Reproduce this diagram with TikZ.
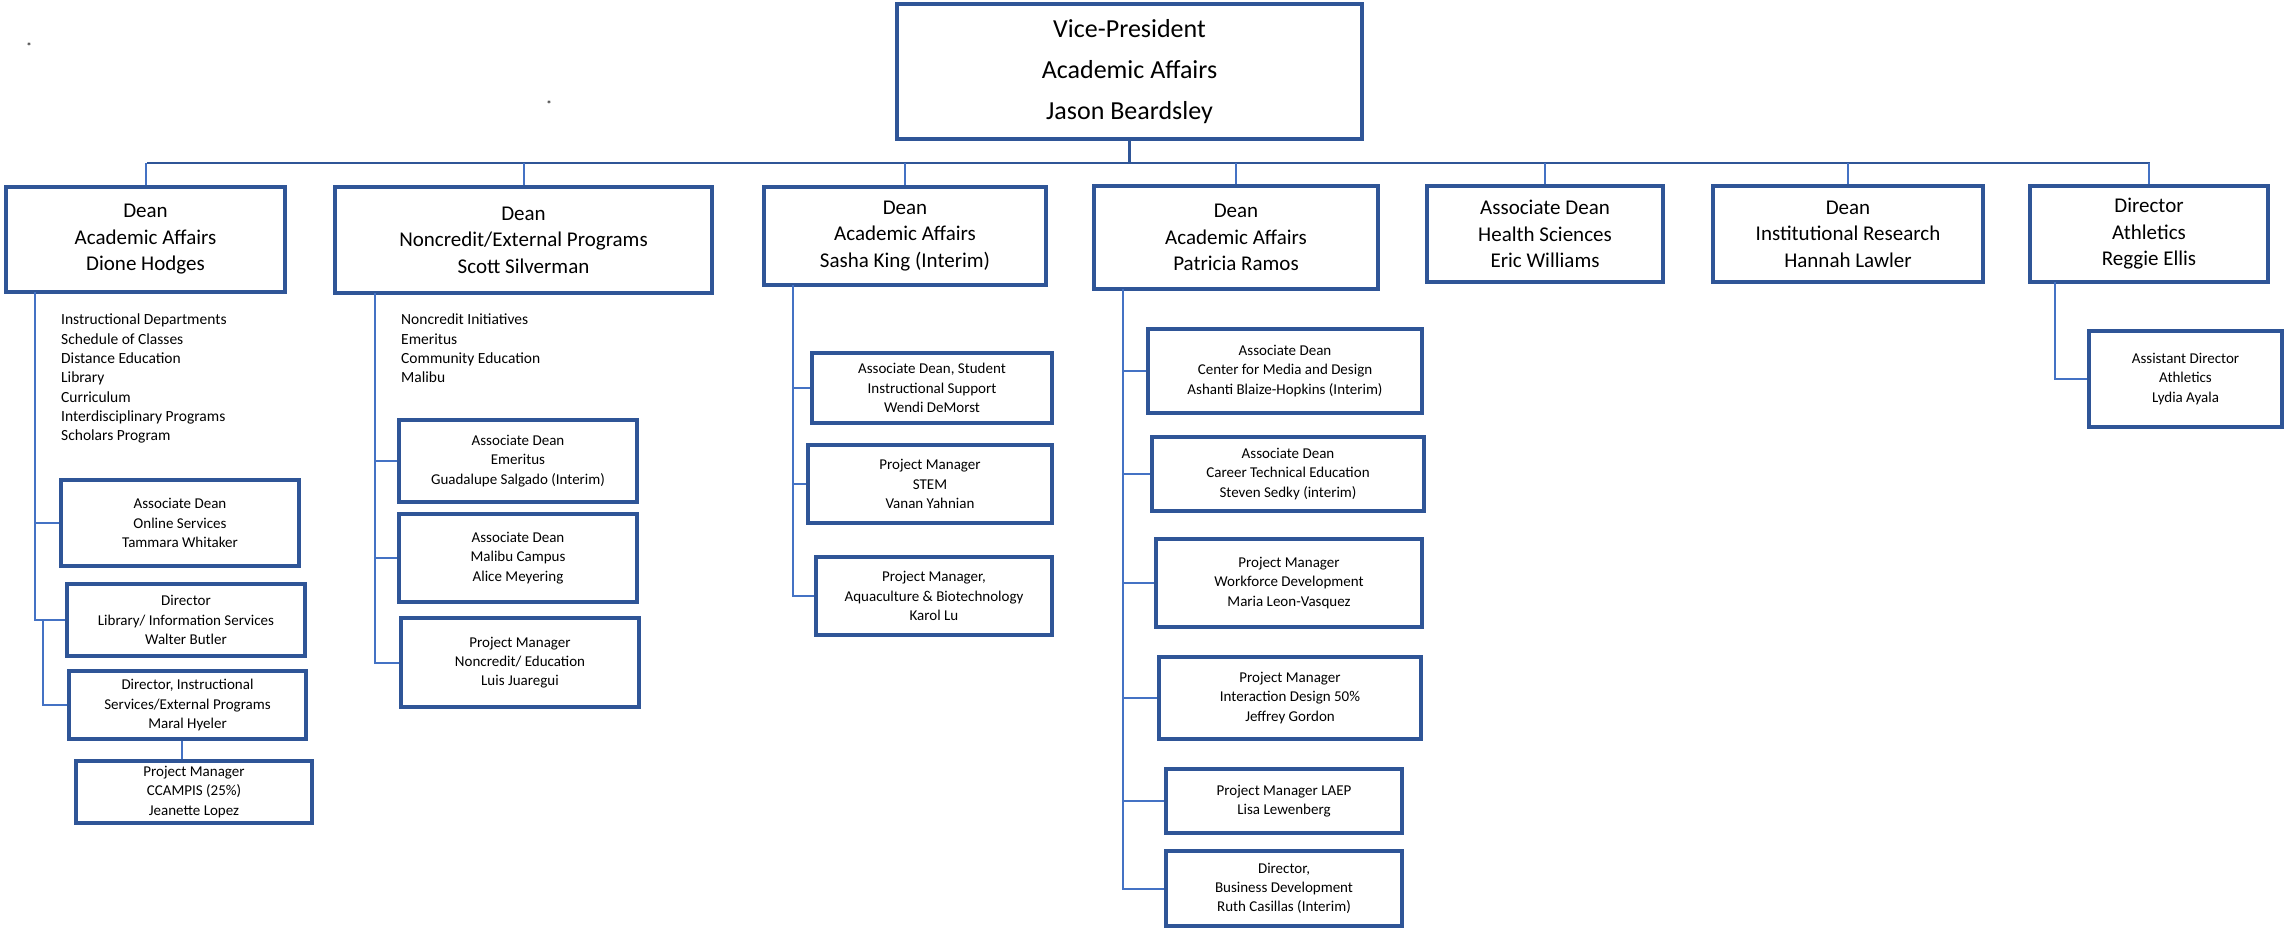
\documentclass[tikz,border=0pt]{standalone}
\usepackage{fontspec}
\setmainfont{Carlito}
\definecolor{boxblue}{HTML}{2F5597}
\definecolor{linkblue}{HTML}{4472C4}
\newcommand{\orgbox}[7]{\node[#2, minimum width={#5-#3}, minimum height={#6-#4}] (#1) at ({(#3+#5)/2},{(#4+#6)/2}) {#7};}
\begin{document}
\begin{tikzpicture}[x=1pt,y=-1pt,
  box/.style={draw=boxblue, line width=4pt, align=center, inner sep=0pt, text=black},
  big/.style={box, font=\fontsize{26}{41}\selectfont},
  mid/.style={box, font=\fontsize{21}{26.5}\selectfont},
  small/.style={box, font=\fontsize{15}{19.3}\selectfont},
  conn/.style={draw=linkblue, line width=2pt},
  bus/.style={draw=boxblue, line width=2.6pt},
  list/.style={align=left, inner sep=0pt, anchor=north west, font=\fontsize{15.5}{19.3}\selectfont},
  strayast/.style={inner sep=0pt, font=\fontsize{11}{11}\selectfont}
]
\fill[white] (0,0) rectangle (2293,930);
\useasboundingbox (0,0) rectangle (2293,930);

% top
\orgbox{VP}{big}{897}{4}{1362}{139}{Vice-President\\Academic Affairs\\Jason Beardsley}

% level 1
\orgbox{A}{mid}{6}{187}{285}{292}{Dean\\Academic Affairs\\Dione Hodges}
\orgbox{B}{mid}{335}{187}{712}{293}{Dean\\Noncredit/External Programs\\Scott Silverman}
\orgbox{C}{mid}{764}{187}{1046}{285}{Dean\\Academic Affairs\\Sasha King (Interim)}
\orgbox{D}{mid}{1094}{186}{1378}{289}{Dean\\Academic Affairs\\Patricia Ramos}
\orgbox{E}{mid}{1427}{186}{1663}{282}{Associate Dean\\Health Sciences\\Eric Williams}
\orgbox{F}{mid}{1713}{186}{1983}{282}{Dean\\Institutional Research\\Hannah Lawler}
\orgbox{G}{mid}{2030}{186}{2268}{282}{Director\\Athletics\\Reggie Ellis}

% A subtree
\node[list] (AList) at (61,314) {Instructional Departments\\Schedule of Classes\\Distance Education\\Library\\Curriculum\\Interdisciplinary Programs\\Scholars Program};
\orgbox{AOn}{small}{61}{480}{299}{566}{Associate Dean\\Online Services\\Tammara Whitaker}
\orgbox{ALib}{small}{67}{584}{305}{656}{Director\\Library/ Information Services\\Walter Butler}
\orgbox{AIns}{small}{69}{671}{306}{739}{Director, Instructional\\Services/External Programs\\Maral Hyeler}
\orgbox{ACC}{small}{76}{761}{312}{823}{Project Manager\\CCAMPIS (25\%)\\Jeanette Lopez}

% B subtree
\node[list] (BList) at (401,314) {Noncredit Initiatives\\Emeritus\\Community Education\\Malibu};
\orgbox{BEm}{small}{399}{420}{637}{502}{Associate Dean\\Emeritus\\Guadalupe Salgado (Interim)}
\orgbox{BMa}{small}{399}{514}{637}{602}{Associate Dean\\Malibu Campus\\Alice Meyering}
\orgbox{BNc}{small}{401}{618}{639}{707}{Project Manager\\Noncredit/ Education\\Luis Juaregui}

% C subtree
\orgbox{CW}{small}{812}{353}{1052}{423}{Associate Dean, Student\\Instructional Support\\Wendi DeMorst}
\orgbox{CS}{small}{808}{445}{1052}{523}{Project Manager\\STEM\\Vanan Yahnian}
\orgbox{CA}{small}{816}{557}{1052}{635}{Project Manager,\\Aquaculture \& Biotechnology\\Karol Lu}

% D subtree
\orgbox{DM}{small}{1148}{329}{1422}{413}{Associate Dean\\Center for Media and Design\\Ashanti Blaize-Hopkins (Interim)}
\orgbox{DC}{small}{1152}{437}{1424}{511}{Associate Dean\\Career Technical Education\\Steven Sedky (interim)}
\orgbox{DW}{small}{1156}{539}{1422}{627}{Project Manager\\Workforce Development\\Maria Leon-Vasquez}
\orgbox{DI}{small}{1159}{657}{1421}{739}{Project Manager\\Interaction Design 50\%\\Jeffrey Gordon}
\orgbox{DL}{small}{1166}{769}{1402}{833}{Project Manager LAEP\\Lisa Lewenberg}
\orgbox{DB}{small}{1166}{851}{1402}{926}{Director,\\Business Development\\Ruth Casillas (Interim)}

% G subtree
\orgbox{GL}{small}{2089}{331}{2282}{427}{Assistant Director\\Athletics\\Lydia Ayala}

% stray marks
\node[strayast] (m1) at (29,47) {*};
\node[strayast] (m2) at (549,105) {*};

% connectors: top level
\coordinate (busL) at (147,163);
\coordinate (busR) at (2150,163);
\draw[bus] (VP.south) -- (VP.south |- busL);
\draw[bus] (busL) -- (busR);
\foreach \n in {A,B,C,D,E,F,G} \draw[conn] (\n.north) -- (\n.north |- busL);

% A connectors
\coordinate (a0) at (35,292);
\coordinate (a1) at (43,620);
\draw[conn] (a0) |- (AOn.west);
\draw[conn] (a0) |- (ALib.west);
\draw[conn] (a1) |- (AIns.west);
\draw[conn] ([xshift=-6pt]AIns.south) -- ([xshift=-6pt]AIns.south |- ACC.north);

% B connectors
\coordinate (b0) at (375,293);
\foreach \n in {BEm,BMa,BNc} \draw[conn] (b0) |- (\n.west);

% C connectors
\coordinate (c0) at (793,285);
\foreach \n in {CW,CS,CA} \draw[conn] (c0) |- (\n.west);

% D connectors
\coordinate (d0) at (1123,289);
\foreach \n in {DM,DC,DW,DI,DL,DB} \draw[conn] (d0) |- (\n.west);

% G connector
\coordinate (g0) at (2055,282);
\draw[conn] (g0) |- (GL.west);
\end{tikzpicture}
\end{document}
